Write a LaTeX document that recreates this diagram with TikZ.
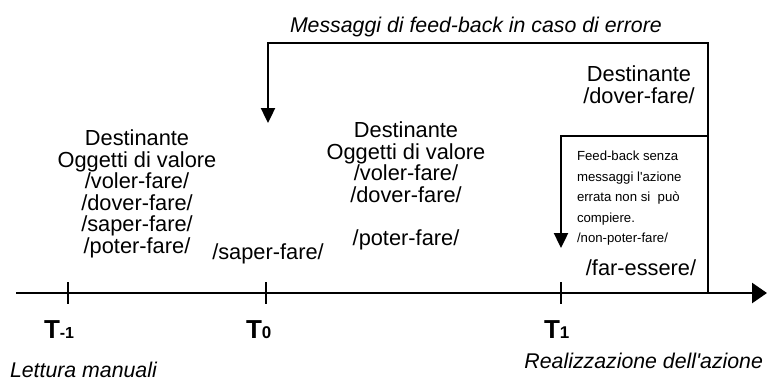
\documentclass[tikz,border=0pt]{standalone}
\usepackage{fontspec}
\setmainfont{Liberation Sans}
\usetikzlibrary{arrows.meta}
\begin{document}
\begin{tikzpicture}[x=1pt,y=-1pt,
  txt/.style={inner sep=0pt,outer sep=0pt,align=center,font=\fontsize{21.8}{21.5}\selectfont},
  small/.style={inner sep=0pt,outer sep=0pt,align=left,font=\fontsize{13.2}{20.6}\selectfont},
  ital/.style={inner sep=0pt,outer sep=0pt,font=\fontsize{21.3}{21.5}\selectfont\itshape},
  tlabel/.style={inner sep=0pt,outer sep=0pt,font=\bfseries},
  axisline/.style={line width=2.6pt,-{Triangle[length=15pt,width=20pt]}},
  fbline/.style={line width=2.4pt,-{Triangle[length=15pt,width=14pt]}},
  tick/.style={line width=2.4pt}]
\useasboundingbox (0,0) rectangle (776,381);
% axis
\coordinate (axs) at (16,293);
\coordinate (axe) at (767,293);
\draw[axisline] (axs) -- (axe);
% ticks
\coordinate (tka) at (68,282); \coordinate (tkb) at (68,304);
\coordinate (tkc) at (266,282); \coordinate (tkd) at (266,304);
\coordinate (tke) at (561,282); \coordinate (tkf) at (561,304);
\draw[tick] (tka) -- (tkb);
\draw[tick] (tkc) -- (tkd);
\draw[tick] (tke) -- (tkf);
% tick labels
\node[tlabel,anchor=base west] (tm1) at (44,338) {{\fontsize{26}{26}\selectfont T}{\fontsize{16}{16}\selectfont -1}};
\node[tlabel,anchor=base west] (t0) at (246,338) {{\fontsize{26}{26}\selectfont T}{\fontsize{17}{17}\selectfont 0}};
\node[tlabel,anchor=base west] (t1) at (544,338) {{\fontsize{26}{26}\selectfont T}{\fontsize{17}{17}\selectfont 1}};
% bottom labels
\node[ital,anchor=base west] (lett) at (10,377) {Lettura manuali};
\node[ital,anchor=base east] (real) at (763,368) {Realizzazione dell\textquotesingle azione};
% title
\node[ital,anchor=base west] (title) at (290,32) {Messaggi di feed-back in caso di errore};
% feedback loop
\coordinate (fba) at (708,293);
\coordinate (fbb) at (708,43);
\coordinate (fbc) at (268,43);
\coordinate (fbd) at (268,123);
\draw[fbline,line join=miter] (fba) -- (fbb) -- (fbc) -- (fbd);
% inner feedback
\coordinate (ifa) at (708,136);
\coordinate (ifb) at (561,136);
\coordinate (ifc) at (561,248);
\draw[fbline,line join=miter] (ifa) -- (ifb) -- (ifc);
% text blocks
\node[txt,anchor=north] (left) at (137,130) {Destinante\\Oggetti di valore\\/voler-fare/\\/dover-fare/\\/saper-fare/\\/poter-fare/};
\node[txt,anchor=north] (mid) at (406,122) {Destinante\\Oggetti di valore\\/voler-fare/\\/dover-fare/\\[21.5pt]/poter-fare/};
\node[txt,anchor=base] (saper) at (268,259) {/saper-fare/};
\node[txt,anchor=north] (right) at (639,66) {Destinante\\/dover-fare/};
\node[small,anchor=north west] (fbtext) at (577,151) {Feed-back senza\\messaggi l\textquotesingle azione\\errata non si\ \ può\\compiere.\\/non-poter-fare/};
\node[txt,anchor=base] (far) at (641,275) {/far-essere/};
\end{tikzpicture}
\end{document}
